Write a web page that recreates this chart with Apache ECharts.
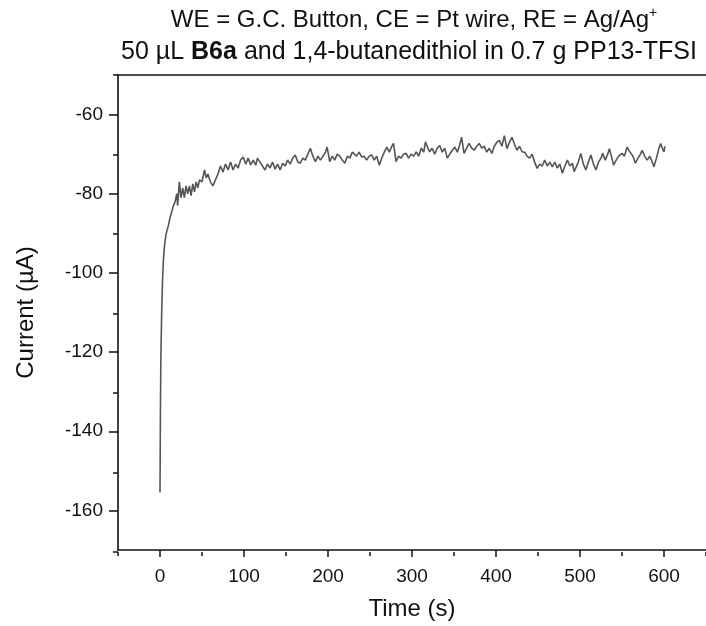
<!DOCTYPE html>
<html>

<head>
    <meta charset='utf-8'>
    <title>Current vs Time</title>
    <script src='https://cdn.jsdelivr.net/npm/echarts@6.0.0/dist/echarts.min.js'></script>
    <style>
        html, body { margin: 0; padding: 0; background: #fff; }
        #chart { width: 706px; height: 626px; }
    </style>
</head>

<body>
    <div id='chart'></div>

    <script type='text/javascript'>
        // time (s) and current (µA)
        const timeS = [
            0, 0.5, 1, 2, 3, 4, 5, 6, 7, 8,
            10, 12, 14, 16, 18, 20, 21, 23, 25, 27,
            29, 31, 33, 35, 37, 39, 41, 43, 45, 47,
            50, 53, 55, 57, 60, 63, 66, 69, 72, 75,
            78, 81, 84, 87, 90, 93, 96, 99, 102, 105,
            108, 111, 114, 116, 119, 122, 125, 128, 131, 134,
            137, 140, 143, 146, 149, 152, 155, 158, 161, 164,
            167, 170, 173, 176, 179, 182, 185, 188, 191, 194,
            197, 199, 202, 205, 208, 211, 214, 217, 220, 223,
            226, 229, 231, 234, 237, 240, 243, 246, 249, 252,
            255, 258, 261, 264, 267, 270, 273, 276, 278, 281,
            284, 287, 290, 293, 296, 299, 302, 305, 308, 311,
            314, 316, 319, 321, 324, 327, 330, 333, 336, 339,
            342, 345, 348, 351, 354, 357, 359, 362, 365, 368,
            371, 374, 377, 380, 383, 386, 389, 392, 395, 398,
            401, 404, 407, 410, 413, 416, 419, 422, 425, 428,
            431, 434, 437, 440, 443, 446, 449, 452, 455, 458,
            461, 464, 467, 470, 473, 476, 479, 482, 485, 488,
            491, 493, 495, 498, 501, 504, 507, 510, 513, 516,
            519, 522, 525, 527, 530, 533, 535, 538, 540, 543,
            546, 550, 553, 556, 558, 560, 563, 566, 569, 572,
            574, 577, 580, 583, 586, 588, 591, 594, 596, 598,
            600, 601
        ]
        const currentUA = [
            -155.5, -135, -122, -110, -102, -97, -94, -92, -90.5, -89.5,
            -88, -86, -86.5, -83, -82, -80, -83, -77, -81, -78.5,
            -81, -78, -80, -78, -80.5, -77.5, -79.5, -77, -78.5, -76.5,
            -77, -74, -76, -75, -77, -78, -76.5, -75, -73, -74.5,
            -72.5, -74, -72, -74, -72.5, -73.5, -71.5, -70.7, -72.5, -71,
            -72.7, -71.5, -72.8, -71, -72, -73, -74, -72.5, -73.5, -72,
            -73.8, -72.5, -74, -72.3, -73, -71.5, -72.5, -71, -70.2, -72,
            -72.3, -71, -71.5, -70, -68.5, -70.5, -71.9, -70.5, -71.5, -70.5,
            -69.5, -68.2, -71.9, -70.5, -71.5, -70, -70.5, -71.5, -72.3, -70.5,
            -71, -69.5, -69, -70.5, -69.5, -70.7, -70.5, -71.5, -70.5, -70.2,
            -71.5, -70.5, -72.8, -71, -69.5, -68.2, -69.5, -68, -67.3, -71.9,
            -70.5, -71, -70, -69.8, -71, -70, -70.5, -69.4, -70.5, -68.5,
            -69.5, -66.9, -68.5, -69.4, -68.5, -70, -68.5, -67.8, -69.5, -68.5,
            -71, -70, -69, -68.2, -69.5, -67.5, -65.7, -69.8, -68.5, -67.3,
            -68.5, -69, -68, -67.3, -68.5, -68, -69.5, -68.5, -69.8, -68,
            -67, -66.5, -68, -65.3, -68.6, -67, -65.7, -67.5, -69, -68,
            -69.4, -69.5, -70.5, -71, -70, -72, -73.6, -72.5, -73, -71.5,
            -73, -72, -73.2, -72, -73.5, -72.5, -74.8, -73, -71.5, -73,
            -72.3, -74.4, -74.8, -72, -69.8, -72.5, -74, -72, -70.2, -72.5,
            -74, -72, -71, -69.8, -71.5, -70, -68.6, -71, -72.8, -71.5,
            -70.5, -69.8, -70.5, -68.2, -69, -68.6, -70.5, -72.3, -71, -70,
            -69, -70.5, -71.5, -70.5, -72, -73.2, -71, -68.5, -67.3, -68.5,
            -69.4, -68
        ]

        const xLabelTicks = [0, 100, 200, 300, 400, 500, 600]
        const xMinorTicks = [-50, 50, 150, 250, 350, 450, 550, 650]
        const yLabelTicks = [-160, -140, -120, -100, -80, -60]
        const yMinorTicks = [-170, -150, -130, -110, -90, -70, -50]

        const font = 'Liberation Sans, Arial, sans-serif'
        const black = '#111'

        const chart = echarts.init(document.getElementById('chart'))
        const gridBox = { left: 118, top: 75, right: -3, bottom: 74 }

        const option = {
            animation: false,
            textStyle: { fontFamily: font },
            grid: [
                Object.assign({}, gridBox),
                Object.assign({}, gridBox)
            ],
            graphic: [
                {
                    type: 'text',
                    x: 414,
                    y: 6,
                    style: {
                        text: '{n|WE = G.C. Button, CE = Pt wire, RE = Ag/Ag}{s|+}',
                        align: 'center',
                        rich: {
                            n: { fontSize: 24, fontFamily: font, fill: black, lineHeight: 28 },
                            s: { fontSize: 14, fontFamily: font, fill: black, lineHeight: 28, verticalAlign: 'top', padding: [0, 0, 14, 0] }
                        }
                    }
                },
                {
                    type: 'text',
                    x: 409,
                    y: 38,
                    style: {
                        text: '{n|50 µL }{b|B6a}{n| and 1,4-butanedithiol in 0.7 g PP13-TFSI}',
                        align: 'center',
                        rich: {
                            n: { fontSize: 25, fontFamily: font, fill: black, lineHeight: 28 },
                            b: { fontSize: 25, fontFamily: font, fill: black, lineHeight: 28, fontWeight: 'bold' }
                        }
                    }
                }
            ],
            xAxis: [
                {
                    gridIndex: 0,
                    type: 'value',
                    position: 'bottom',
                    min: -50,
                    max: 650,
                    name: 'Time (s)',
                    nameLocation: 'middle',
                    nameGap: 47,
                    nameTextStyle: { fontSize: 24, color: black, fontFamily: font },
                    axisLine: { onZero: false, lineStyle: { color: black, width: 1.6 } },
                    axisTick: { customValues: xLabelTicks, length: 7, lineStyle: { color: black, width: 1.5 } },
                    axisLabel: { customValues: xLabelTicks, fontSize: 19, color: black, margin: 17 },
                    splitLine: { show: false }
                },
                {
                    gridIndex: 0,
                    type: 'value',
                    position: 'top',
                    min: -50,
                    max: 650,
                    axisLine: { onZero: false, lineStyle: { color: black, width: 1.6 } },
                    axisTick: { show: false },
                    axisLabel: { show: false },
                    splitLine: { show: false }
                },
                {
                    gridIndex: 1,
                    type: 'value',
                    position: 'bottom',
                    min: -50,
                    max: 650,
                    axisLine: { show: false, onZero: false },
                    axisTick: { customValues: xMinorTicks, length: 4, lineStyle: { color: black, width: 1.5 } },
                    axisLabel: { show: false },
                    splitLine: { show: false }
                }
            ],
            yAxis: [
                {
                    gridIndex: 0,
                    type: 'value',
                    position: 'left',
                    min: -170,
                    max: -50,
                    name: 'Current (µA)',
                    nameLocation: 'middle',
                    nameGap: 80,
                    nameTextStyle: { fontSize: 24, color: black, fontFamily: font },
                    axisLine: { show: true, onZero: false, lineStyle: { color: black, width: 1.6 } },
                    axisTick: { show: true, customValues: yLabelTicks, length: 9, lineStyle: { color: black, width: 1.5 } },
                    axisLabel: { customValues: yLabelTicks, fontSize: 19, color: black, margin: 15 },
                    splitLine: { show: false }
                },
                {
                    gridIndex: 1,
                    type: 'value',
                    position: 'left',
                    min: -170,
                    max: -50,
                    axisLine: { show: false, onZero: false },
                    axisTick: { show: true, customValues: yMinorTicks, length: 5, lineStyle: { color: black, width: 1.5 } },
                    axisLabel: { show: false },
                    splitLine: { show: false }
                }
            ],
            series: [{
                type: 'line',
                xAxisIndex: 0,
                yAxisIndex: 0,
                data: timeS.map((t, i) => [t, currentUA[i]]),
                showSymbol: false,
                lineStyle: { color: '#555', width: 1.6 }
            }]
        }
        chart.setOption(option)
    </script>
</body>

</html>
